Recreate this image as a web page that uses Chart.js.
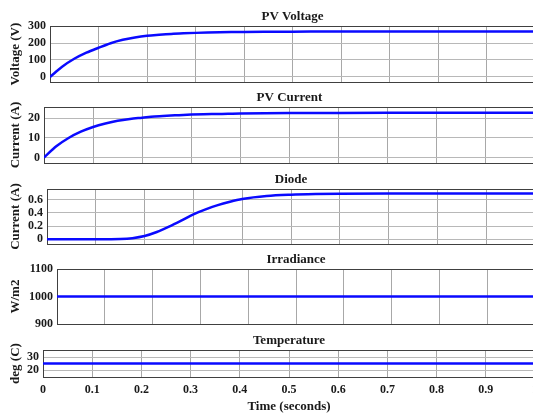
<!DOCTYPE html>
<html>
<head>
<meta charset="utf-8">
<script src="https://cdn.jsdelivr.net/npm/chart.js@4.4.1/dist/chart.umd.min.js"></script>
<style>
html, body { margin: 0; padding: 0; background: #fff; }
#wrap { position: relative; width: 533px; height: 415px; overflow: hidden; }
#wrap canvas { position: absolute; left: 0; }
</style>
</head>
<body>
<div id="wrap">
  <canvas id="c1"></canvas>
  <canvas id="c2"></canvas>
  <canvas id="c3"></canvas>
  <canvas id="c4"></canvas>
  <canvas id="c5"></canvas>
</div>
<script>
// ---- data ----
const time = [0, 0.025, 0.05, 0.075, 0.1, 0.125, 0.15, 0.175, 0.2, 0.225, 0.25, 0.275, 0.3,
              0.325, 0.35, 0.375, 0.4, 0.45, 0.5, 0.55, 0.6, 0.7, 0.8, 0.9, 1.0];
const pvVoltage = [0, 60, 107, 143, 172, 199, 219, 233, 243, 249, 254, 257.4, 260,
                   262, 263.5, 264.6, 265.5, 266.5, 267.2, 267.6, 267.8, 268, 268, 268, 268];
const pvCurrent = [0, 5.7, 9.9, 13.1, 15.5, 17.3, 18.7, 19.6, 20.2, 20.8, 21.2, 21.5, 21.8,
                   22.0, 22.1, 22.2, 22.3, 22.45, 22.55, 22.6, 22.65, 22.7, 22.7, 22.7, 22.7];
const diodeCurrent = [0, 0, 0, 0, 0, 0.001, 0.004, 0.018, 0.05, 0.11, 0.19, 0.28, 0.375,
                      0.45, 0.515, 0.565, 0.605, 0.65, 0.67, 0.68, 0.685, 0.69, 0.69, 0.69, 0.69];
const irradiance = [1000, 1000, 1000, 1000, 1000, 1000, 1000, 1000, 1000, 1000, 1000, 1000, 1000,
                    1000, 1000, 1000, 1000, 1000, 1000, 1000, 1000, 1000, 1000, 1000, 1000];
const temperature = [25, 25, 25, 25, 25, 25, 25, 25, 25, 25, 25, 25, 25,
                     25, 25, 25, 25, 25, 25, 25, 25, 25, 25, 25, 25];

const xTicks = [0, 0.1, 0.2, 0.3, 0.4, 0.5, 0.6, 0.7, 0.8, 0.9, 1];
const xTickLabels = ['0', '0.1', '0.2', '0.3', '0.4', '0.5', '0.6', '0.7', '0.8', '0.9', '1'];
const voltageTicks = [0, 100, 200, 300];
const currentTicks = [0, 10, 20];
const diodeTicks = [0, 0.2, 0.4, 0.6];
const irradianceTicks = [900, 1000, 1100];
const temperatureTicks = [20, 30];

// ---- look ----
const FONT = 'Liberation Serif';
const TEXT = '#1a1a1a';
const LINE = '#0a0aff';
const CANVAS_W = 560;
const PLOT_RIGHT = 535;
const TITLE_SPACE = 20;
const BELOW = 10;      // room under each plot so the y titles are not cut
const X_AXIS_H = 38;

const panels = [
  { id: 'c1', title: 'PV Voltage', yTitle: 'Voltage (V)', values: pvVoltage, yTicks: voltageTicks,
    yMin: -30, yMax: 300, left: 50, top: 26, bottom: 82 },
  { id: 'c2', title: 'PV Current', yTitle: 'Current (A)', values: pvCurrent, yTicks: currentTicks,
    yMin: -2.8, yMax: 25.6, left: 44, top: 107, bottom: 163 },
  { id: 'c3', title: 'Diode', yTitle: 'Current (A)', values: diodeCurrent, yTicks: diodeTicks,
    yMin: -0.07, yMax: 0.755, left: 47, top: 189, bottom: 244 },
  { id: 'c4', title: 'Irradiance', yTitle: 'W/m2', values: irradiance, yTicks: irradianceTicks,
    yMin: 900, yMax: 1100, left: 57, top: 269, bottom: 324 },
  { id: 'c5', title: 'Temperature', yTitle: 'deg (C)', values: temperature, yTicks: temperatureTicks,
    yMin: 14.6, yMax: 35.4, left: 43, top: 350, bottom: 377 }
];

// box round the plot area, drawn under the trace
const framePlugin = {
  id: 'frame',
  beforeDatasetsDraw(chart) {
    const { ctx, chartArea: a } = chart;
    ctx.save();
    ctx.strokeStyle = '#404040';
    ctx.lineWidth = 1;
    ctx.strokeRect(Math.round(a.left) + 0.5, Math.round(a.top) + 0.5,
                   Math.round(a.right - a.left), Math.round(a.bottom - a.top));
    ctx.restore();
  }
};

function boldFont(size) { return { family: FONT, size, weight: 'bold' }; }

panels.forEach((p, i) => {
  const last = i === panels.length - 1;
  const canvas = document.getElementById(p.id);
  const h = TITLE_SPACE + (p.bottom - p.top) + (last ? X_AXIS_H : BELOW);
  canvas.width = CANVAS_W;
  canvas.height = h;
  canvas.style.width = CANVAS_W + 'px';
  canvas.style.height = h + 'px';
  canvas.style.top = (p.top - TITLE_SPACE) + 'px';

  new Chart(canvas.getContext('2d'), {
    type: 'line',
    data: {
      datasets: [{
        data: time.map((t, k) => ({ x: t, y: p.values[k] })),
        borderColor: LINE,
        borderWidth: 2.5,
        pointRadius: 0,
        cubicInterpolationMode: 'monotone',
        fill: false
      }]
    },
    options: {
      responsive: false,
      animation: false,
      layout: { padding: { left: 0, right: CANVAS_W - PLOT_RIGHT, top: 0, bottom: last ? 0 : BELOW } },
      plugins: {
        legend: { display: false },
        tooltip: { enabled: false },
        title: {
          display: true, text: p.title, fullSize: false, color: TEXT,
          font: boldFont(13), padding: { top: 2.5, bottom: 2 }
        }
      },
      scales: {
        x: {
          type: 'linear', min: 0, max: 1,
          afterBuildTicks: s => { s.ticks = xTicks.map(v => ({ value: v })); },
          afterFit: s => { s.height = last ? X_AXIS_H : 0; s.paddingLeft = 0; s.paddingRight = 0; },
          ticks: {
            display: last, autoSkip: false, maxRotation: 0, padding: 6, color: TEXT,
            font: boldFont(12), callback: (v, k) => xTickLabels[k]
          },
          grid: { color: '#a8a8a8', drawTicks: false },
          border: { display: false },
          title: {
            display: last, text: 'Time (seconds)', color: TEXT,
            font: boldFont(13), padding: { top: 0, bottom: 0.5 }
          }
        },
        y: {
          type: 'linear', min: p.yMin, max: p.yMax,
          afterBuildTicks: s => { s.ticks = p.yTicks.map(v => ({ value: v })); },
          afterFit: s => { s.width = p.left; s.paddingTop = 0; s.paddingBottom = 0; },
          ticks: { padding: 4, color: TEXT, font: boldFont(12), callback: v => String(v) },
          grid: { color: '#b8b8b8', drawTicks: false },
          border: { display: false },
          title: {
            display: true, text: p.yTitle, color: TEXT,
            font: boldFont(13), padding: { top: 8, bottom: 0 }
          }
        }
      }
    },
    plugins: [framePlugin]
  });
});
</script>
</body>
</html>
